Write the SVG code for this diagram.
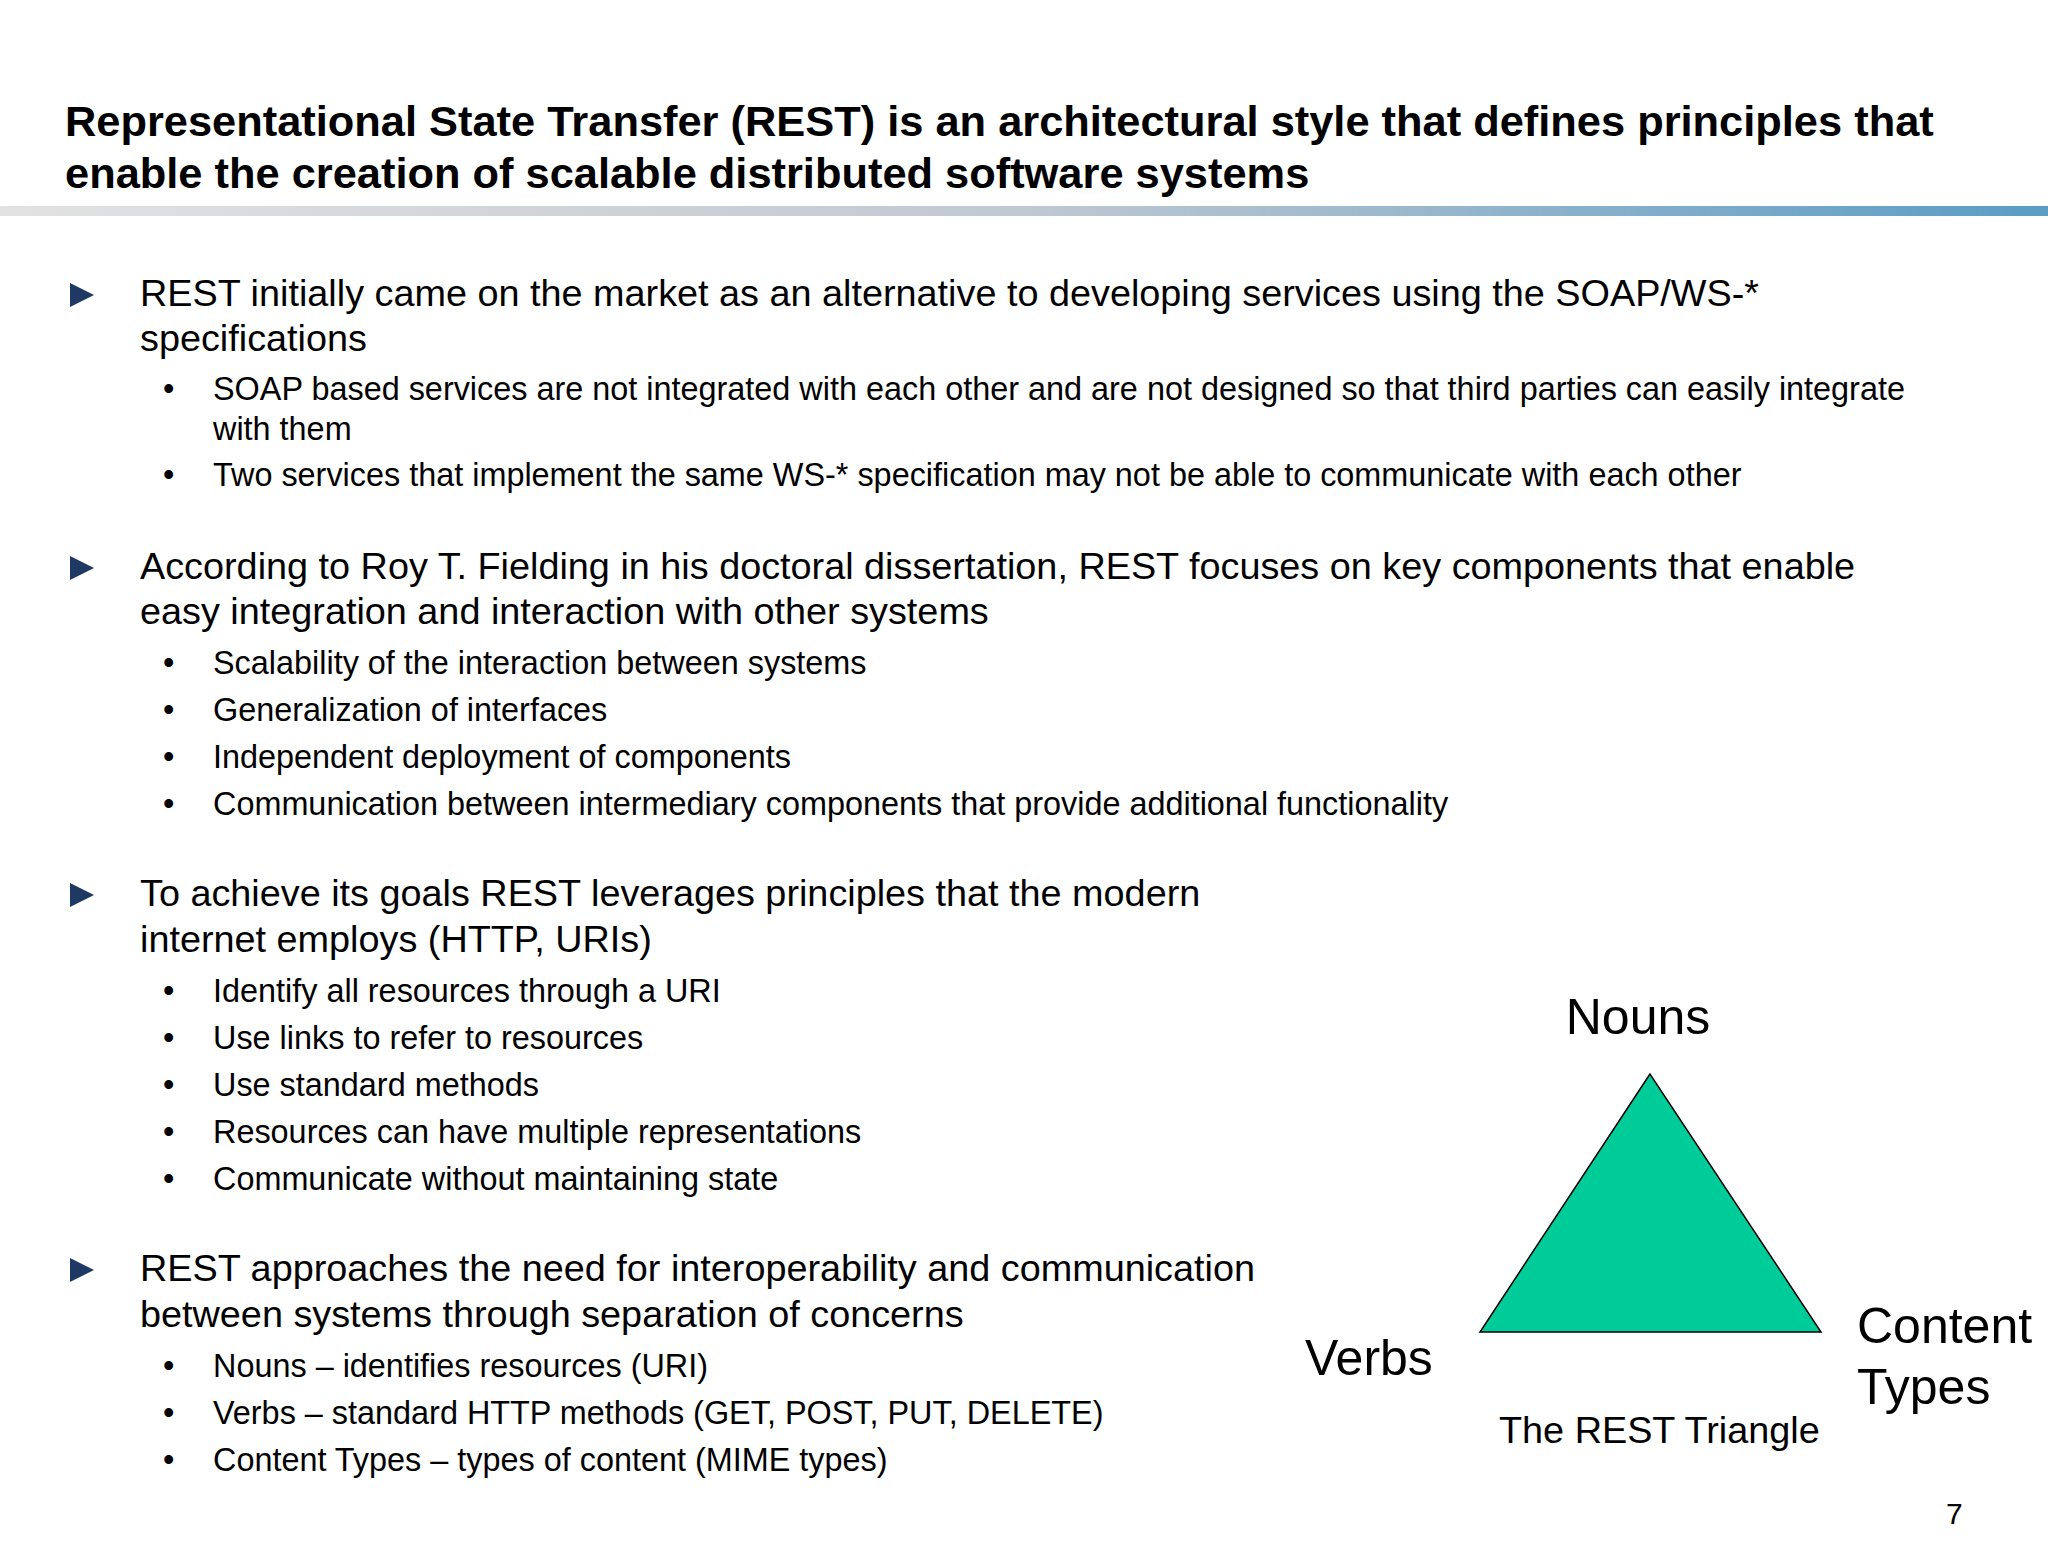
<svg xmlns="http://www.w3.org/2000/svg" width="2048" height="1560" viewBox="0 0 2048 1560">
<style>
text{font-family:"Liberation Sans",Arial,sans-serif;fill:#000}
.t{font-size:43.4px;font-weight:bold}
.m{font-size:37.8px}
.s{font-size:32.4px}
.l{font-size:50px}
</style>
<defs>
<linearGradient id="g" x1="0" x2="1" y1="0" y2="0">
<stop offset="0" stop-color="#e2e2e2"/><stop offset="0.5" stop-color="#c0c8d2"/><stop offset="1" stop-color="#5a9cc4"/>
</linearGradient>
<polygon id="arr" points="0,-12 24,0 0,12" fill="#1f3864"/>
</defs>
<rect width="2048" height="1560" fill="#fff"/>
<g id="title">
<text class="t" x="65" y="136">Representational State Transfer (REST) is an architectural style that defines principles that</text>
<text class="t" x="65" y="188">enable the creation of scalable distributed software systems</text>
<rect x="0" y="206" width="2048" height="10" fill="url(#g)"/>
</g>
<g id="bullets">
<use href="#arr" x="70" y="295"/>
<text class="m" x="140" y="306">REST initially came on the market as an alternative to developing services using the SOAP/WS-*</text>
<text class="m" x="140" y="351">specifications</text>
<text class="s" x="163" y="400">•</text><text class="s" x="213" y="400">SOAP based services are not integrated with each other and are not designed so that third parties can easily integrate</text>
<text class="s" x="213" y="440">with them</text>
<text class="s" x="163" y="486">•</text><text class="s" x="213" y="486">Two services that implement the same WS-* specification may not be able to communicate with each other</text>

<use href="#arr" x="70" y="568"/>
<text class="m" x="140" y="579">According to Roy T. Fielding in his doctoral dissertation, REST focuses on key components that enable</text>
<text class="m" x="140" y="624">easy integration and interaction with other systems</text>
<text class="s" x="163" y="674">•</text><text class="s" x="213" y="674">Scalability of the interaction between systems</text>
<text class="s" x="163" y="721">•</text><text class="s" x="213" y="721">Generalization of interfaces</text>
<text class="s" x="163" y="768">•</text><text class="s" x="213" y="768">Independent deployment of components</text>
<text class="s" x="163" y="815">•</text><text class="s" x="213" y="815">Communication between intermediary components that provide additional functionality</text>

<use href="#arr" x="70" y="895"/>
<text class="m" x="140" y="906">To achieve its goals REST leverages principles that the modern</text>
<text class="m" x="140" y="952">internet employs (HTTP, URIs)</text>
<text class="s" x="163" y="1002">•</text><text class="s" x="213" y="1002">Identify all resources through a URI</text>
<text class="s" x="163" y="1049">•</text><text class="s" x="213" y="1049">Use links to refer to resources</text>
<text class="s" x="163" y="1096">•</text><text class="s" x="213" y="1096">Use standard methods</text>
<text class="s" x="163" y="1143">•</text><text class="s" x="213" y="1143">Resources can have multiple representations</text>
<text class="s" x="163" y="1190">•</text><text class="s" x="213" y="1190">Communicate without maintaining state</text>

<use href="#arr" x="70" y="1270"/>
<text class="m" x="140" y="1281">REST approaches the need for interoperability and communication</text>
<text class="m" x="140" y="1327">between systems through separation of concerns</text>
<text class="s" x="163" y="1377">•</text><text class="s" x="213" y="1377">Nouns – identifies resources (URI)</text>
<text class="s" x="163" y="1424">•</text><text class="s" x="213" y="1424">Verbs – standard HTTP methods (GET, POST, PUT, DELETE)</text>
<text class="s" x="163" y="1471">•</text><text class="s" x="213" y="1471">Content Types – types of content (MIME types)</text>
</g>
<g id="triangle">
<polygon points="1650,1074 1480,1332 1821,1332" fill="#00cc99" stroke="#000" stroke-width="1.5"/>
<text class="l" x="1638" y="1034" text-anchor="middle">Nouns</text>
<text class="l" x="1305" y="1375">Verbs</text>
<text class="l" x="1857" y="1343">Content</text>
<text class="l" x="1857" y="1404">Types</text>
<text class="m" x="1499" y="1443">The REST Triangle</text>
</g>
<text x="1946" y="1524" style="font-size:30px">7</text>
</svg>
